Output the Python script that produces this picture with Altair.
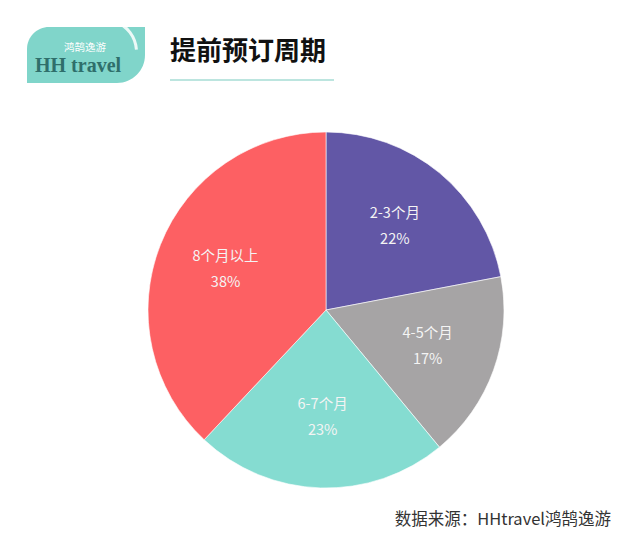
import altair as alt
import pandas as pd

categories = ["2-3个月", "4-5个月", "6-7个月", "8个月以上"]
shares = [22, 17, 23, 38]
pct_labels = ["22%", "17%", "23%", "38%"]
colors = ["#6257a6", "#a6a4a5", "#85dcd1", "#fd6063"]

title_text = "提前预订周期"
source_text = "数据来源：HHtravel鸿鹄逸游"
logo_en = "HH travel"
logo_cn = "鸿鹄逸游"

df = pd.DataFrame({
    "cat": categories,
    "value": shares,
    "pct": pct_labels,
    "order": list(range(len(categories))),
})

CX, CY, R = 318, 302, 178
FONT = "Noto Sans CJK SC"

base = alt.Chart(df).encode(
    theta=alt.Theta("value:Q", stack=True),
    order=alt.Order("order:Q"),
)

pie = base.mark_arc(outerRadius=R, stroke="#ffffff", strokeWidth=0.6).encode(
    x=alt.value(CX),
    y=alt.value(CY),
    color=alt.Color("cat:N", scale=alt.Scale(domain=categories, range=colors), legend=None),
)

lab1 = base.mark_text(radius=108, dy=-13, fontSize=14.5, font=FONT, color="#f4f4f4").encode(
    x=alt.value(CX), y=alt.value(CY), text="cat:N"
)
lab2 = base.mark_text(radius=108, dy=13, fontSize=14.5, font=FONT, color="#f4f4f4").encode(
    x=alt.value(CX), y=alt.value(CY), text="pct:N"
)

one = pd.DataFrame({"t": [title_text], "s": [source_text], "e": [logo_en], "c": [logo_cn]})
ann = alt.Chart(one)

logo_box = ann.mark_rect(
    color="#80d5ca", cornerRadiusTopLeft=22, cornerRadiusBottomRight=30
).encode(x=alt.value(19), x2=alt.value(137), y=alt.value(19), y2=alt.value(75))

swoosh = ann.mark_arc(
    radius=34, radius2=31, theta=0.35, theta2=1.5, color="#ffffff", opacity=0.85
).encode(x=alt.value(96), y=alt.value(44))

logo_en_t = ann.mark_text(
    align="left", baseline="middle", font="Liberation Serif", fontSize=20,
    fontWeight="bold", color="#2f6f6b"
).encode(x=alt.value(27), y=alt.value(58), text="e:N")

logo_cn_t = ann.mark_text(
    align="left", baseline="middle", font=FONT, fontSize=10.5, color="#ffffff"
).encode(x=alt.value(56), y=alt.value(40), text="c:N")

title = ann.mark_text(
    align="left", baseline="middle", font=FONT, fontSize=26, fontWeight="bold", color="#111111"
).encode(x=alt.value(162), y=alt.value(44), text="t:N")

underline = ann.mark_rule(color="#a6ddd5", strokeWidth=1.5).encode(
    x=alt.value(162), x2=alt.value(326), y=alt.value(72)
)

source = ann.mark_text(
    align="right", baseline="middle", font=FONT, fontSize=16.5, color="#333333"
).encode(x=alt.value(603), y=alt.value(512), text="s:N")

chart = alt.layer(
    logo_box, swoosh, logo_en_t, logo_cn_t, title, underline, pie, lab1, lab2, source
).properties(
    width=624, height=531, autosize=alt.AutoSizeParams(type="none"), padding=0
).configure(background="#ffffff").configure_view(stroke=None)

chart.save("out.html", embed_options={"renderer": "svg", "actions": False})
